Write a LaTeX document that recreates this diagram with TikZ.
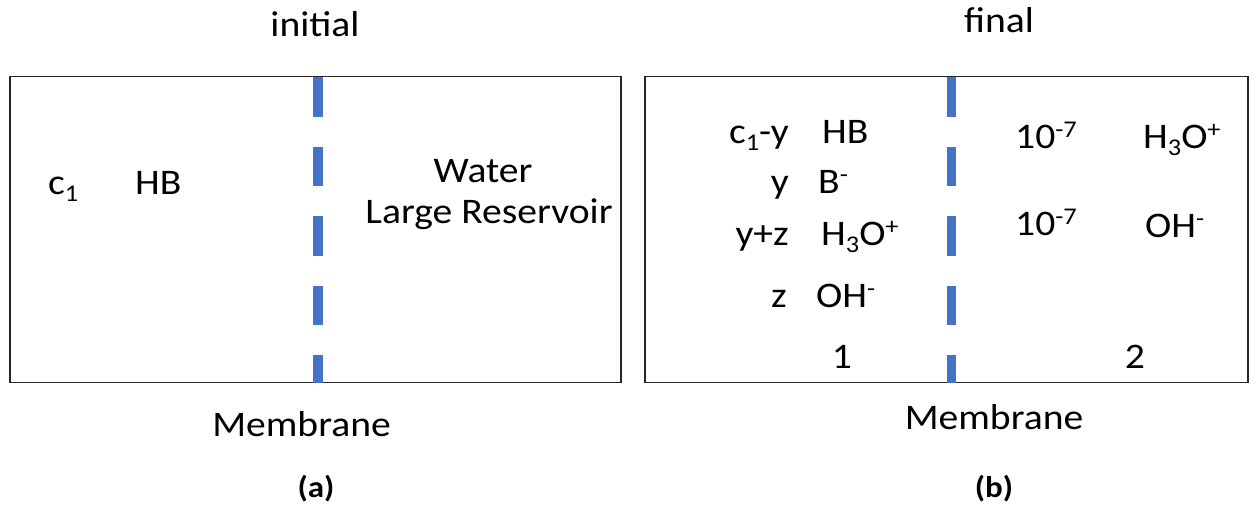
\documentclass[tikz,border=0pt]{standalone}
\usepackage{fontspec}
\setmainfont{Carlito}[FakeStretch=1.1]
\newcommand\lsub[1]{\raisebox{-7pt}{\fontsize{24}{24}\selectfont #1}}
\newcommand\lsup[1]{\raisebox{11pt}{\fontsize{24}{24}\selectfont #1}}
\definecolor{memblue}{RGB}{68,114,196}
\tikzset{
  lbl/.style={inner sep=0pt, font=\fontsize{36}{40}\selectfont},
  captionlbl/.style={inner sep=0pt, font=\fontsize{30}{34}\selectfont\bfseries},
  boxline/.style={draw=black!85, line width=1.6pt},
  membrane/.style={draw=memblue, line width=9.5pt, dash pattern=on 39.5pt off 30pt}
}
\begin{document}
\begin{tikzpicture}[x=1pt,y=-1pt]
\useasboundingbox (0,0) rectangle (1257,516);
% boxes
\draw[boxline] (10,76.5) rectangle (621,382.5);
\draw[boxline] (645,76.5) rectangle (1248,382.5);
% membranes
\coordinate (ma1) at (318,77.3);
\coordinate (ma2) at (318,382.5);
\coordinate (mb1) at (951.5,77.3);
\coordinate (mb2) at (951.5,382.5);
\draw[membrane] (ma1) -- (ma2);
\draw[membrane] (mb1) -- (mb2);
% (a)
\node[lbl, anchor=base] (ini) at (315,37) {initial};
\node[lbl, anchor=base west] (c1) at (48,194) {c\lsub{1}};
\node[lbl, anchor=base west] (hb) at (135,194) {HB};
\node[lbl, anchor=base] (water) at (483,182) {Water};
\node[lbl, anchor=base] (res) at (489,223) {Large Reservoir};
\node[lbl, anchor=base] (mema) at (301.5,436) {Membrane};
\node[captionlbl, anchor=base] (capa) at (316,497) {(a)};
% (b)
\node[lbl, anchor=base] (fin) at (999,33) {final};
\node[lbl, anchor=base east] (q1) at (789,143) {c\lsub{1}-y};
\node[lbl, anchor=base east] (q2) at (789,193) {y};
\node[lbl, anchor=base east] (q3) at (789,245) {y+z};
\node[lbl, anchor=base east] (q4) at (787,307) {z};
\node[lbl, anchor=base west] (s1) at (822,143) {HB};
\node[lbl, anchor=base west] (s2) at (818,193) {B\lsup{-}};
\node[lbl, anchor=base west] (s3) at (821,245) {H\lsub{3}O\lsup{+}};
\node[lbl, anchor=base west] (s4) at (816,307) {OH\lsup{-}};
\node[lbl, anchor=base] (one) at (842,368) {1};
\node[lbl, anchor=base west] (r1) at (1015,148) {10\lsup{-7}};
\node[lbl, anchor=base west] (r2) at (1143,148) {H\lsub{3}O\lsup{+}};
\node[lbl, anchor=base west] (r3) at (1015,235) {10\lsup{-7}};
\node[lbl, anchor=base west] (r4) at (1145,237) {OH\lsup{-}};
\node[lbl, anchor=base] (two) at (1135,368) {2};
\node[lbl, anchor=base] (memb) at (994,429) {Membrane};
\node[captionlbl, anchor=base] (capb) at (994,497) {(b)};
\end{tikzpicture}
\end{document}
